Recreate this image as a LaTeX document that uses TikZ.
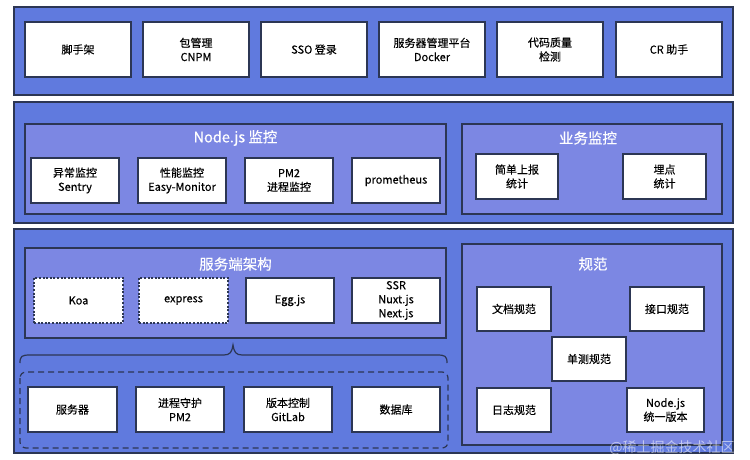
\documentclass[tikz,border=0pt]{standalone}
\usepackage{fontspec}
\setmainfont{Noto Sans CJK SC}
\newfontfamily\medfont{Noto Sans CJK SC}[FakeBold=0.35]
\begin{document}
\begin{tikzpicture}[x=1pt,y=-1pt,
  panel/.style={draw=bord,line width=1.4pt,fill=outerblue},
  group/.style={draw=bord,line width=1.2pt,fill=innerblue},
  item/.style={draw=bord,line width=1.2pt,fill=white,align=center,font=\medfont\fontsize{11}{14}\selectfont,inner sep=0pt},
  ditem/.style={item,line width=1.4pt,dash pattern=on 2pt off 1.6pt},
  gtitle/.style={text=white,font=\medfont\fontsize{14.5}{16}\selectfont},
]
\definecolor{outerblue}{RGB}{96,122,222}
\definecolor{innerblue}{RGB}{124,135,227}
\definecolor{bord}{RGB}{44,54,84}
\useasboundingbox (0,0) rectangle (750,460);
\fill[white] (0,0) rectangle (750,460);
% panel 1
\draw[panel] (14,7) rectangle (733,95);
\node[item,minimum width=106,minimum height=55] (jsj) at (78,49.5) {脚手架};
\node[item,minimum width=106,minimum height=55] (bgl) at (196,49.5) {包管理\\CNPM};
\node[item,minimum width=106,minimum height=55] (sso) at (314,49.5) {SSO 登录};
\node[item,minimum width=106,minimum height=55] (fwq) at (432,49.5) {服务器管理平台\\Docker};
\node[item,minimum width=106,minimum height=55] (dmzl) at (550,49.5) {代码质量\\检测};
\node[item,minimum width=106,minimum height=55] (cr) at (669,49.5) {CR 助手};
% panel 2
\draw[panel] (14,102) rectangle (733,223);
\draw[group] (25,124) rectangle (446,214);
\node[gtitle] (njt) at (235.5,138) {Node.js 监控};
\node[item,minimum width=88,minimum height=45] (yc) at (75,180.5) {异常监控\\Sentry};
\node[item,minimum width=88,minimum height=45] (xn) at (182,180.5) {性能监控\\Easy-Monitor};
\node[item,minimum width=88,minimum height=45] (pm) at (289,180.5) {PM2\\进程监控};
\node[item,minimum width=88,minimum height=45] (pro) at (396,180.5) {prometheus};
\draw[group] (462,124) rectangle (722,214);
\node[gtitle] (ywt) at (588,138) {业务监控};
\node[item,minimum width=82,minimum height=45] (jd) at (517,176.5) {简单上报\\统计};
\node[item,minimum width=83,minimum height=45] (md) at (664.5,176.5) {埋点\\统计};
% panel 3
\draw[panel] (14,229) rectangle (733,453);
\draw[group] (25,248) rectangle (446,338);
\node[gtitle] (fwt) at (235.5,264) {服务端架构};
\node[ditem,minimum width=89,minimum height=45] (koa) at (78.5,300.5) {Koa};
\node[ditem,minimum width=89,minimum height=45] (exp) at (183.5,300.5) {express};
\node[item,minimum width=88,minimum height=45] (egg) at (290,300.5) {Egg.js};
\node[item,minimum width=88,minimum height=45] (ssr) at (396,300.5) {SSR\\Nuxt.js\\Next.js};
% brace
\coordinate (bl) at (20,363);
\coordinate (bt) at (233,345);
\coordinate (br) at (447,363);
\draw[bord,line width=1.2pt] (bl) .. controls (20,356) and (22,355) .. (30,355) -- (224,355) .. controls (230,355) and (232,352) .. (bt) .. controls (234,352) and (236,355) .. (242,355) -- (437,355) .. controls (445,355) and (447,356) .. (br);
\draw[bord,line width=1.2pt,dash pattern=on 6pt off 4pt,rounded corners=6pt] (20,372) rectangle (448,448);
\node[item,minimum width=89,minimum height=45] (fwqi) at (72.5,409.5) {服务器};
\node[item,minimum width=88,minimum height=45] (jc) at (180,409.5) {进程守护\\PM2};
\node[item,minimum width=88,minimum height=45] (bb) at (288,409.5) {版本控制\\GitLab};
\node[item,minimum width=88,minimum height=45] (sjk) at (396,409.5) {数据库};
% norms
\draw[group] (462,244) rectangle (722,445);
\node[gtitle] (gft) at (593,264) {规范};
\node[item,minimum width=74,minimum height=44] (wd) at (514,309) {文档规范};
\node[item,minimum width=74,minimum height=44] (jk) at (667,309) {接口规范};
\node[item,minimum width=74,minimum height=44] (dc) at (589,359) {单测规范};
\node[item,minimum width=74,minimum height=44] (rz) at (514,410) {日志规范};
\node[item,minimum width=77,minimum height=44] (nv) at (665.5,410) {Node.js\\统一版本};
% watermark
\node[text=white,opacity=0.55,font=\fontsize{14}{16}\selectfont] (wm) at (672,448) {@稀土掘金技术社区};
\end{tikzpicture}
\end{document}
